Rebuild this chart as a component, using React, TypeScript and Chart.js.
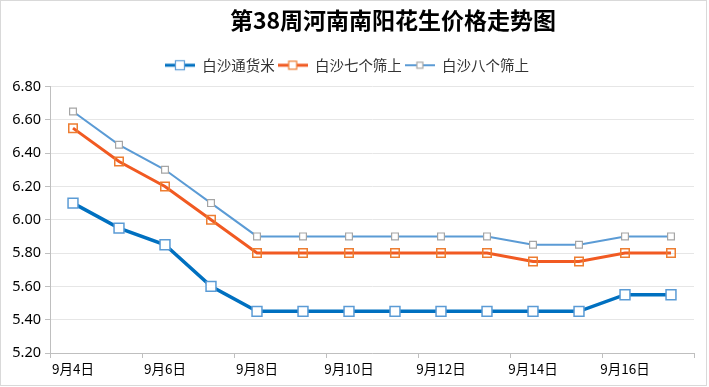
import React, { useEffect, useRef } from 'react';
import { Chart, registerables } from 'chart.js';

Chart.register(...registerables);

const TITLE = '第38周河南南阳花生价格走势图';
const dates = ['9月4日', '9月5日', '9月6日', '9月7日', '9月8日', '9月9日', '9月10日', '9月11日', '9月12日', '9月13日', '9月14日', '9月15日', '9月16日', '9月17日'];
const seriesNames = ['白沙通货米', '白沙七个筛上', '白沙八个筛上'];
const tongHuoMi = [6.10, 5.95, 5.85, 5.60, 5.45, 5.45, 5.45, 5.45, 5.45, 5.45, 5.45, 5.45, 5.55, 5.55];
const qiGeShai = [6.55, 6.35, 6.20, 6.00, 5.80, 5.80, 5.80, 5.80, 5.80, 5.80, 5.75, 5.75, 5.80, 5.80];
const baGeShai = [6.65, 6.45, 6.30, 6.10, 5.90, 5.90, 5.90, 5.90, 5.90, 5.90, 5.85, 5.85, 5.90, 5.90];
const yMin = 5.2;
const yMax = 6.8;
const yStep = 0.2;

const FONT = '"Noto Sans", "Noto Sans CJK SC", sans-serif';
const CJK_FONT = '"Noto Sans CJK SC", "Noto Sans", sans-serif';

function makeMarker(lineColor: string, lineWidth: number, boxSize: number, boxBorder: string, boxFill: string | null) {
  const c = document.createElement('canvas');
  c.width = 30;
  c.height = 14;
  const g = c.getContext('2d')!;
  g.strokeStyle = lineColor;
  g.lineWidth = lineWidth;
  g.beginPath();
  g.moveTo(0, 7);
  g.lineTo(30, 7);
  g.stroke();
  const h = boxSize / 2;
  if (boxFill) {
    g.fillStyle = boxFill;
    g.fillRect(15 - h, 7 - h, boxSize, boxSize);
  }
  g.strokeStyle = boxBorder;
  g.lineWidth = 1.2;
  g.strokeRect(15 - h, 7 - h, boxSize, boxSize);
  return c;
}

const legendGap = {
  id: 'legendGap',
  afterInit(chart: any) {
    const leg = chart.legend;
    if (!leg) return;
    const orig = leg.fit;
    leg.fit = function () {
      orig.call(this);
      this.height += 4;
    };
  },
};

export default function App() {
  const ref = useRef<HTMLCanvasElement | null>(null);

  useEffect(() => {
    if (!ref.current) return;
    const markers = [
      makeMarker('#0070C0', 3, 9, '#5B9BD5', '#ffffff'),
      makeMarker('#F15A22', 3, 8, '#ED7D31', '#ffffff'),
      makeMarker('#5B9BD5', 2, 6, '#A5A5A5', '#ffffff'),
    ];
    const chart = new Chart(ref.current, {
      type: 'line',
      data: {
        labels: dates,
        datasets: [
          {
            label: seriesNames[0],
            data: tongHuoMi,
            borderColor: '#0070C0',
            borderWidth: 3.5,
            pointStyle: 'rect',
            pointRadius: 7,
            pointBorderColor: '#5B9BD5',
            pointBackgroundColor: '#ffffff',
            pointBorderWidth: 1.5,
            tension: 0,
          },
          {
            label: seriesNames[1],
            data: qiGeShai,
            borderColor: '#F15A22',
            borderWidth: 3,
            pointStyle: 'rect',
            pointRadius: 6,
            pointBorderColor: '#ED7D31',
            pointBackgroundColor: 'rgba(255,255,255,0)',
            pointBorderWidth: 1.5,
            tension: 0,
          },
          {
            label: seriesNames[2],
            data: baGeShai,
            borderColor: '#5B9BD5',
            borderWidth: 2,
            pointStyle: 'rect',
            pointRadius: 4.8,
            pointBorderColor: '#A5A5A5',
            pointBackgroundColor: '#ffffff',
            pointBorderWidth: 1.2,
            tension: 0,
          },
        ],
      },
      options: {
        responsive: false,
        animation: false,
        layout: { padding: { left: 0, right: 15, top: 55, bottom: 0 } },
        plugins: {
          title: { display: false },
          tooltip: { enabled: false },
          legend: {
            display: true,
            position: 'top',
            labels: {
              usePointStyle: true,
              pointStyleWidth: 30,
              padding: 3,
              color: '#333333',
              font: { family: CJK_FONT, size: 14.5 },
              generateLabels: (ch: any) => {
                const items = Chart.defaults.plugins.legend.labels.generateLabels(ch);
                return items.map((it: any, i: number) => ({ ...it, pointStyle: markers[i] }));
              },
            },
          },
        },
        scales: {
          x: {
            type: 'category',
            offset: true,
            afterFit: (s: any) => {
              s.height = 34;
            },
            grid: {
              display: true,
              drawOnChartArea: false,
              offset: true,
              tickLength: 5,
              tickColor: (ctx: any) => (ctx.type !== 'tick' || ctx.index % 2 === 0 ? '#bfbfbf' : 'rgba(0,0,0,0)'),
            },
            border: { color: '#bfbfbf', width: 1 },
            ticks: {
              autoSkip: false,
              maxRotation: 0,
              minRotation: 0,
              padding: 3,
              color: '#000000',
              font: { family: CJK_FONT, size: 13.5 },
              callback: (_v: any, i: number) => (i % 2 === 0 ? dates[i] : ''),
            },
          },
          y: {
            min: yMin,
            max: yMax,
            afterFit: (s: any) => {
              s.width = 50;
            },
            grid: {
              color: '#e6e6e6',
              tickColor: '#bfbfbf',
              tickLength: 5,
            },
            border: { color: '#bfbfbf', width: 1 },
            ticks: {
              stepSize: yStep,
              padding: 4,
              color: '#000000',
              font: { family: FONT, size: 14.5 },
              callback: (v: any) => Number(v).toFixed(2),
            },
          },
        },
      },
      plugins: [legendGap],
    } as any);
    return () => chart.destroy();
  }, []);

  return (
    <div style={{ position: 'fixed', left: 0, top: 0, width: 709, height: 387, background: '#ffffff', overflow: 'hidden' }}>
      <canvas ref={ref} width={709} height={387} style={{ display: 'block', position: 'absolute', left: 0, top: 0 }} />
      <div
        style={{
          position: 'absolute',
          top: 8,
          left: 393,
          transform: 'translateX(-50%)',
          whiteSpace: 'nowrap',
          fontFamily: CJK_FONT,
          fontWeight: 'bold',
          fontSize: 23,
          lineHeight: '23px',
          color: '#000000',
        }}
      >
        {TITLE}
      </div>
      <div
        style={{
          position: 'absolute',
          left: 0,
          top: 0,
          width: 707,
          height: 386,
          boxSizing: 'border-box',
          border: '1px solid #d9d9d9',
          pointerEvents: 'none',
        }}
      />
    </div>
  );
}
